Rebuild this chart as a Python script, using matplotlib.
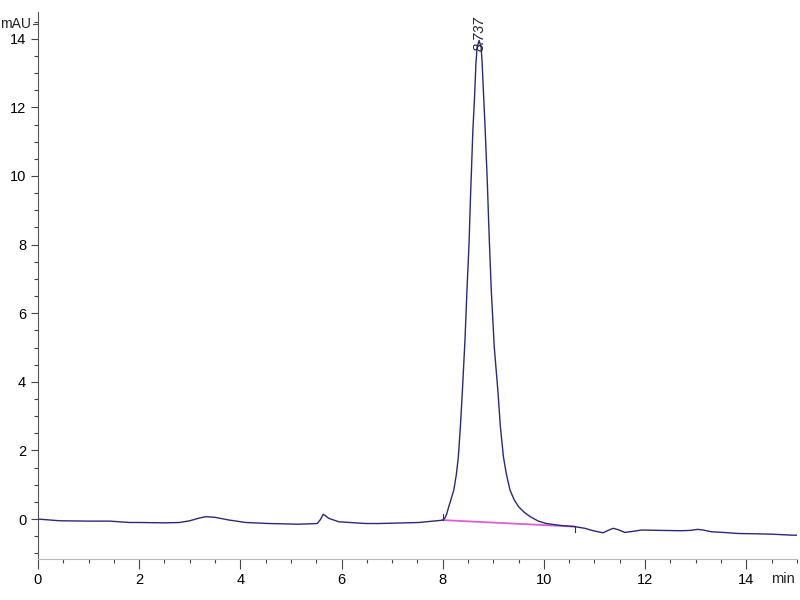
import matplotlib
matplotlib.use("Agg")
import matplotlib.pyplot as plt
from matplotlib.ticker import MultipleLocator

plt.rcParams['font.family'] = ['Liberation Sans Narrow', 'Liberation Sans', 'DejaVu Sans']

# detector trace (min, mAU)
t = [0.00, 0.43, 1.00, 1.42, 1.81, 2.01, 2.50, 2.80, 3.00, 3.19, 3.32, 3.50, 3.78,
     4.11, 4.57, 5.16, 5.52, 5.58, 5.64, 5.75, 5.95, 6.48, 6.74, 7.53, 7.95,
     8.00, 8.04, 8.08, 8.12, 8.17, 8.22, 8.27, 8.31, 8.35, 8.39, 8.44, 8.48,
     8.52, 8.55, 8.597, 8.63, 8.657, 8.68, 8.72, 8.76, 8.78, 8.81, 8.84, 8.88,
     8.92, 8.96, 9.02, 9.09, 9.14, 9.20, 9.26, 9.33, 9.41, 9.50, 9.61, 9.73,
     9.89, 10.05, 10.29, 10.45, 10.61, 10.81, 10.95, 11.07, 11.17, 11.27, 11.37,
     11.47, 11.60, 11.75, 11.93, 12.30, 12.71, 12.90, 13.04, 13.15, 13.31,
     13.55, 13.83, 14.20, 14.49, 14.92, 15.00]
signal = [0.00, -0.05, -0.06, -0.06, -0.10, -0.10, -0.11, -0.10, -0.05, 0.03, 0.07, 0.05, -0.03,
          -0.10, -0.13, -0.15, -0.13, -0.02, 0.14, 0.02, -0.08, -0.13, -0.13, -0.10, -0.04,
          -0.03, 0.02, 0.15, 0.36, 0.60, 0.85, 1.30, 1.82, 2.70, 3.76, 5.20, 6.68,
          8.00, 9.40, 11.34, 12.31, 13.28, 13.75, 13.95, 13.75, 13.28, 12.31, 11.34, 9.90,
          8.20, 6.68, 5.00, 3.76, 2.70, 1.82, 1.30, 0.85, 0.57, 0.36, 0.20, 0.07,
          -0.06, -0.13, -0.18, -0.20, -0.22, -0.27, -0.33, -0.37, -0.40, -0.33, -0.27,
          -0.31, -0.39, -0.36, -0.32, -0.33, -0.34, -0.33, -0.30, -0.32, -0.37,
          -0.39, -0.42, -0.43, -0.44, -0.47, -0.47]

# integration baseline and marks
base_t = [8.00, 10.61]
base_y = [-0.03, -0.22]
peak_rt = 8.737
peak_h = 13.95

fig = plt.figure(figsize=(8, 6), dpi=100)
ax = fig.add_axes([0.0475, 0.068, 0.9485, 0.912])

ax.plot(base_t, base_y, color='#e060d0', lw=1.3, zorder=2)
ax.plot(t, signal, color='#2a2a7a', lw=1.0, zorder=3)
ax.plot([base_t[0], base_t[0]], [base_y[0], base_y[0] + 0.18], color='#2a2a7a', lw=0.8)
ax.plot([base_t[1], base_t[1]], [base_y[1], base_y[1] - 0.15], color='#2a2a7a', lw=0.8)

ax.text(peak_rt, peak_h - 0.3, '8.737', rotation=90, ha='center', va='bottom',
        fontsize=10, style='italic', color='#222222')

ax.set_xlim(0, 15)
ax.set_ylim(-1.17, 14.78)
ax.xaxis.set_major_locator(MultipleLocator(2))
ax.xaxis.set_minor_locator(MultipleLocator(0.5))
ax.yaxis.set_major_locator(MultipleLocator(2))
ax.yaxis.set_minor_locator(MultipleLocator(0.5))

for s in ['top', 'right']:
    ax.spines[s].set_visible(False)
ax.spines['left'].set_color('#555555')
ax.spines['bottom'].set_color('#bbbbbb')
ax.tick_params(axis='both', which='major', labelsize=10.5, color='#444444', length=5, width=0.8)
ax.tick_params(axis='both', which='minor', color='#444444', length=3, width=0.8)
ax.tick_params(axis='x', which='major', length=7, pad=3)

# unit labels
ax.plot([-0.006, 0], [14.43, 14.43], transform=ax.get_yaxis_transform(), clip_on=False,
        color='#444444', lw=0.8)
ax.text(-0.009, 14.43, 'mAU', transform=ax.get_yaxis_transform(), ha='right', va='center',
        fontsize=10, color='#222222')
ax.text(0.982, -0.036, 'min', transform=ax.transAxes, ha='center', va='center',
        fontsize=10.5, color='#222222')

fig.savefig('out.png', dpi=100)
